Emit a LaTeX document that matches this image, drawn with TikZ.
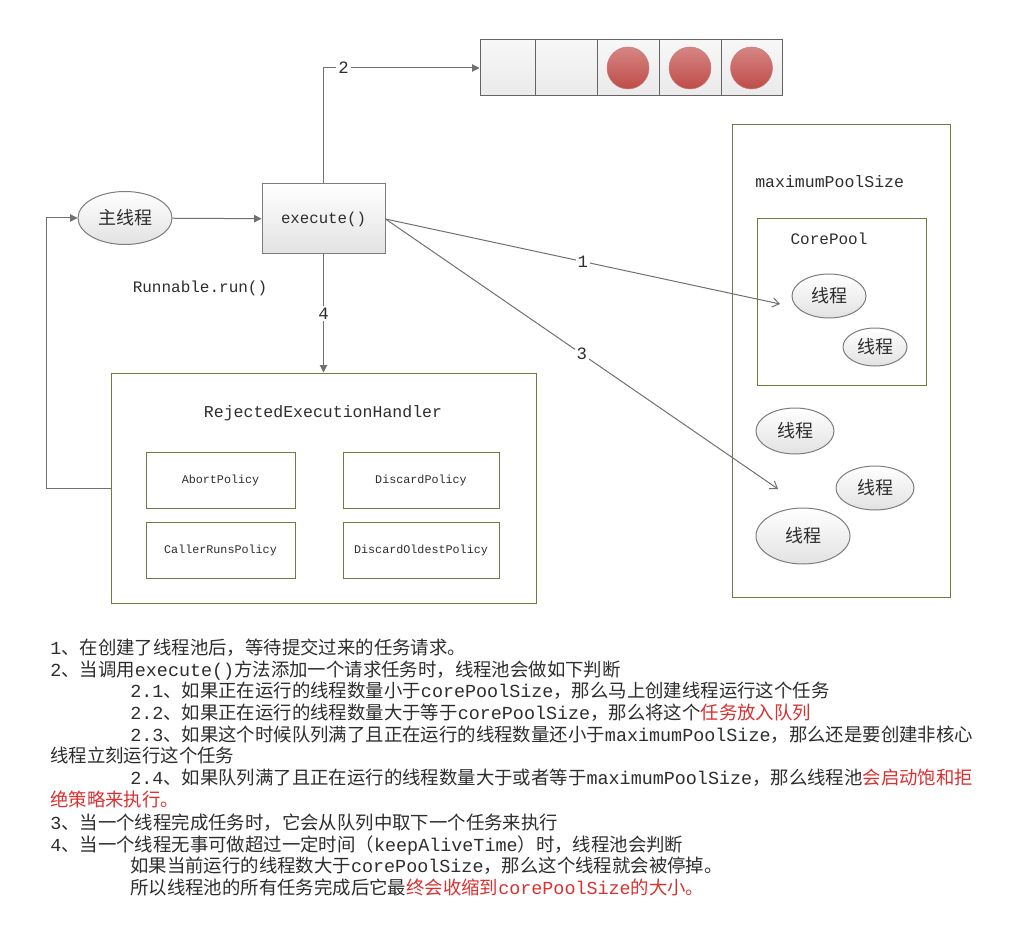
\documentclass[tikz,border=0pt]{standalone}
\usepackage{fontspec}
\setmainfont{Liberation Mono}
\newfontfamily\cjk{Noto Sans CJK SC}
\usetikzlibrary{shapes.geometric,arrows.meta}
\newcommand{\zh}[1]{{\cjk #1}}
\def\upx{0.75pt}
\definecolor{ink}{RGB}{45,45,45}
\definecolor{hl}{RGB}{218,48,48}
\definecolor{conn}{RGB}{112,112,112}
\definecolor{olive}{RGB}{112,122,62}
\definecolor{edgegray}{RGB}{125,125,125}
\definecolor{shadebot}{RGB}{226,226,226}
\definecolor{cellbot}{RGB}{234,234,234}
\definecolor{redtop}{RGB}{214,134,132}
\definecolor{redbot}{RGB}{190,76,72}
\tikzset{
  fs/.style={font=\fontsize{#1}{#1}\selectfont},
  conn/.style={draw=conn, line width=1*\upx},
  filltip/.style={-{Triangle[length=5.5pt,width=5.5pt]}},
  opentip/.style={-{Straight Barb[length=5pt,width=7pt]}},
  numlbl/.style={fill=white, inner sep=1.5pt, text=ink, fs=13},
  glossy/.style={shading=axis, top color=white, bottom color=shadebot, draw=edgegray, line width=1*\upx},
  thread/.style={ellipse, glossy, inner sep=0pt, text=ink, fs=13.5},
  cell/.style={rectangle, shading=axis, top color={white!97!black}, bottom color=cellbot, draw={rgb,255:red,100;green,100;blue,100}, line width=1*\upx, minimum height=56*\upx, inner sep=0pt},
  ball/.style={circle, shading=axis, top color=redtop, bottom color=redbot, draw={rgb,255:red,200;green,125;blue,122}, line width=0.5*\upx, minimum size=42*\upx, inner sep=0pt},
  frame/.style={rectangle, draw=olive, line width=1*\upx, inner sep=0pt},
  policy/.style={frame, minimum height=56*\upx, text=ink, fs=8.8},
  lbl/.style={text=ink, inner sep=0pt},
  para/.style={anchor=base west, inner sep=0pt, text=ink, fs=13.8},
}
\begin{document}
\begin{tikzpicture}[x=0.75pt, y=-0.75pt]
\useasboundingbox (0,0) rectangle (1035,941);

% ---- task queue ----
\node[cell, minimum width=55*\upx] (q1) at (507.5,68) {};
\node[cell, minimum width=62*\upx] (q2) at (566,68) {};
\node[cell, minimum width=62*\upx] (q3) at (628,68) {};
\node[cell, minimum width=62*\upx] (q4) at (690,68) {};
\node[cell, minimum width=61*\upx] (q5) at (751.5,68) {};
\node[ball] (c1) at (q3) {};
\node[ball] (c2) at (q4) {};
\node[ball] (c3) at (q5) {};

% ---- caller and execute() ----
\node[thread, minimum width=94*\upx, minimum height=53*\upx] (main) at (125,218) {\zh{主线程}};
\node[rectangle, glossy, minimum width=123*\upx, minimum height=70*\upx, text=ink, fs=11.8] (exec) at (323.5,219) {execute()};
\node[lbl, fs=12] (runlbl) at (200,288) {Runnable.run()};

% ---- rejection handler ----
\node[frame, minimum width=425*\upx, minimum height=230*\upx] (rej) at (323.5,488) {};
\node[lbl, fs=12.4] (rejtitle) at (323,413) {RejectedExecutionHandler};
\node[policy, minimum width=149*\upx] (p1) at (220.5,480) {AbortPolicy};
\node[policy, minimum width=156*\upx] (p2) at (421,480) {DiscardPolicy};
\node[policy, minimum width=149*\upx] (p3) at (220.5,550) {CallerRunsPolicy};
\node[policy, minimum width=156*\upx] (p4) at (421,550) {DiscardOldestPolicy};

% ---- thread pool ----
\node[frame, minimum width=218*\upx, minimum height=472*\upx] (maxp) at (841,361) {};
\node[lbl, fs=12.4, anchor=west] (maxlbl) at (755,182) {maximumPoolSize};
\node[frame, minimum width=169*\upx, minimum height=166*\upx] (core) at (841.5,302) {};
\node[lbl, fs=12] (corelbl) at (829,239) {CorePool};
\node[thread, minimum width=74*\upx, minimum height=44*\upx] (th1) at (829,296) {\zh{线程}};
\node[thread, minimum width=64*\upx, minimum height=38*\upx] (th2) at (875,347) {\zh{线程}};
\node[thread, minimum width=78*\upx, minimum height=46*\upx] (th3) at (795,431) {\zh{线程}};
\node[thread, minimum width=78*\upx, minimum height=44*\upx] (th4) at (875,488) {\zh{线程}};
\node[thread, minimum width=94*\upx, minimum height=56*\upx] (th5) at (803,536) {\zh{线程}};

\coordinate (tip1) at (780,304);
\coordinate (tip3) at (778,489);
\coordinate (fb) at (46,488);

% ---- connectors ----
\draw[conn, filltip] (main) -- (exec);
\draw[conn, filltip] (exec.north) |- node[numlbl, pos=0.564] {2} (q1.west);
\draw[conn, filltip] (exec.south) -- node[numlbl] {4} (rej.north);
\draw[conn, opentip] (exec.east) -- node[numlbl] {1} (tip1);
\draw[conn, opentip] (exec.east) -- node[numlbl] {3} (tip3);
\draw[conn, filltip] (rej.west) -- (fb) |- (main.west);

% ---- explanation ----
\node[para] (t1) at (50,654) {1\zh{、在创建了线程池后，等待提交过来的任务请求。}};
\node[para] (t2) at (50,676) {2\zh{、当调用}execute()\zh{方法添加一个请求任务时，线程池会做如下判断}};
\node[para] (t3) at (130,697) {2.1\zh{、如果正在运行的线程数量小于}corePoolSize\zh{，那么马上创建线程运行这个任务}};
\node[para] (t4) at (130,719) {2.2\zh{、如果正在运行的线程数量大于等于}corePoolSize\zh{，那么将这个}\textcolor{hl}{\zh{任务放入队列}}};
\node[para] (t5) at (130,741) {2.3\zh{、如果这个时候队列满了且正在运行的线程数量还小于}maximumPoolSize\zh{，那么还是要创建非核心}};
\node[para] (t6) at (50,762) {\zh{线程立刻运行这个任务}};
\node[para] (t7) at (130,784) {2.4\zh{、如果队列满了且正在运行的线程数量大于或者等于}maximumPoolSize\zh{，那么线程池}\textcolor{hl}{\zh{会启动饱和拒}}};
\node[para] (t8) at (50,806) {\textcolor{hl}{\zh{绝策略来执行。}}};
\node[para] (t9) at (50,829) {3\zh{、当一个线程完成任务时，它会从队列中取下一个任务来执行}};
\node[para] (t10) at (50,851) {4\zh{、当一个线程无事可做超过一定时间（}keepAliveTime\zh{）时，线程池会判断}};
\node[para] (t11) at (130,872) {\zh{如果当前运行的线程数大于}corePoolSize\zh{，那么这个线程就会被停掉。}};
\node[para] (t12) at (130,894) {\zh{所以线程池的所有任务完成后它最}\textcolor{hl}{\zh{终会收缩到}corePoolSize\zh{的大小。}}};
\end{tikzpicture}
\end{document}
